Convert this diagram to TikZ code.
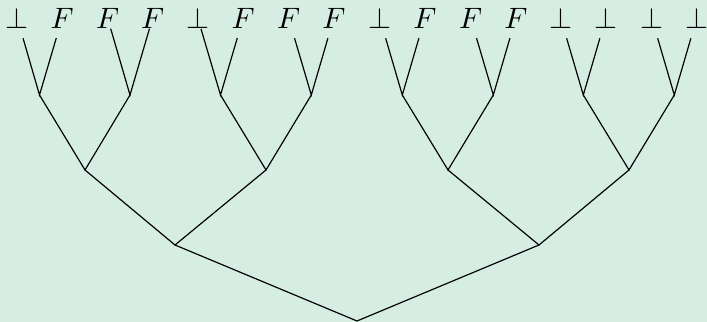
\documentclass[tikz,border=0pt]{standalone}
\usepackage{amsmath,amssymb}
\usepackage{tikz}
\usetikzlibrary{positioning}
\usepackage{xcolor}
\definecolor{treeBg}{HTML}{D6EDE3}

\tikzset{
    % leaf labels and the branches between them
    leaf/.style={inner sep=3.2pt, font=\normalsize},
    leaftight/.style={inner sep=0pt, font=\normalsize},
    branch/.style={draw=black, line width=0.4pt}
}

\begin{document}
\begin{tikzpicture}[x=0.339pt, y=0.339pt]

    % background, fixes the margins
    \fill[treeBg] (0,0) rectangle (707,322);
    \useasboundingbox (0,0) rectangle (707,322);

    % Branch points, root at the bottom
    \coordinate (v0) at (357,1);
    \coordinate (v1a) at (175,77);
    \coordinate (v1b) at (539,77);
    \coordinate (v2a) at (85,152);
    \coordinate (v2b) at (266,152);
    \coordinate (v2c) at (448,152);
    \coordinate (v2d) at (629,152);
    \coordinate (v3a) at (39.5,227);
    \coordinate (v3b) at (130,227);
    \coordinate (v3c) at (220.5,227);
    \coordinate (v3d) at (311.3,227);
    \coordinate (v3e) at (402.3,227);
    \coordinate (v3f) at (493.3,227);
    \coordinate (v3g) at (583.3,227);
    \coordinate (v3h) at (674.3,227);

    % Leaves
    \node[leaf] (t1) at (17.2,304) {$\bot$};
    \node[leaf] (t2) at (62.2,304) {$F$};
    \node[leaftight] (t3) at (107.6,304) {$F$};
    \node[leaftight] (t4) at (152.6,304) {$F$};
    \node[leaftight] (t5) at (197.8,304) {$\bot$};
    \node[leaf] (t6) at (243.2,304) {$F$};
    \node[leaf] (t7) at (288.6,304) {$F$};
    \node[leaf] (t8) at (333.8,304) {$F$};
    \node[leaf] (t9) at (379.7,304) {$\bot$};
    \node[leaf] (t10) at (424.8,304) {$F$};
    \node[leaf] (t11) at (470.6,304) {$F$};
    \node[leaf] (t12) at (515.8,304) {$F$};
    \node[leaf] (t13) at (560.7,304) {$\bot$};
    \node[leaf] (t14) at (605.8,304) {$\bot$};
    \node[leaf] (t15) at (651.7,304) {$\bot$};
    \node[leaf] (t16) at (696.8,304) {$\bot$};

    % Upper levels
    \draw[branch] (v1a) -- (v0) -- (v1b);
    \draw[branch] (v2a) -- (v1a) -- (v2b);
    \draw[branch] (v2c) -- (v1b) -- (v2d);
    \draw[branch] (v3a) -- (v2a) -- (v3b);
    \draw[branch] (v3c) -- (v2b) -- (v3d);
    \draw[branch] (v3e) -- (v2c) -- (v3f);
    \draw[branch] (v3g) -- (v2d) -- (v3h);

    % Leaf branches
    \draw[branch] (t1) -- (v3a) -- (t2);
    \draw[branch] (t3) -- (v3b) -- (t4);
    \draw[branch] (t5) -- (v3c) -- (t6);
    \draw[branch] (t7) -- (v3d) -- (t8);
    \draw[branch] (t9) -- (v3e) -- (t10);
    \draw[branch] (t11) -- (v3f) -- (t12);
    \draw[branch] (t13) -- (v3g) -- (t14);
    \draw[branch] (t15) -- (v3h) -- (t16);

\end{tikzpicture}
\end{document}
